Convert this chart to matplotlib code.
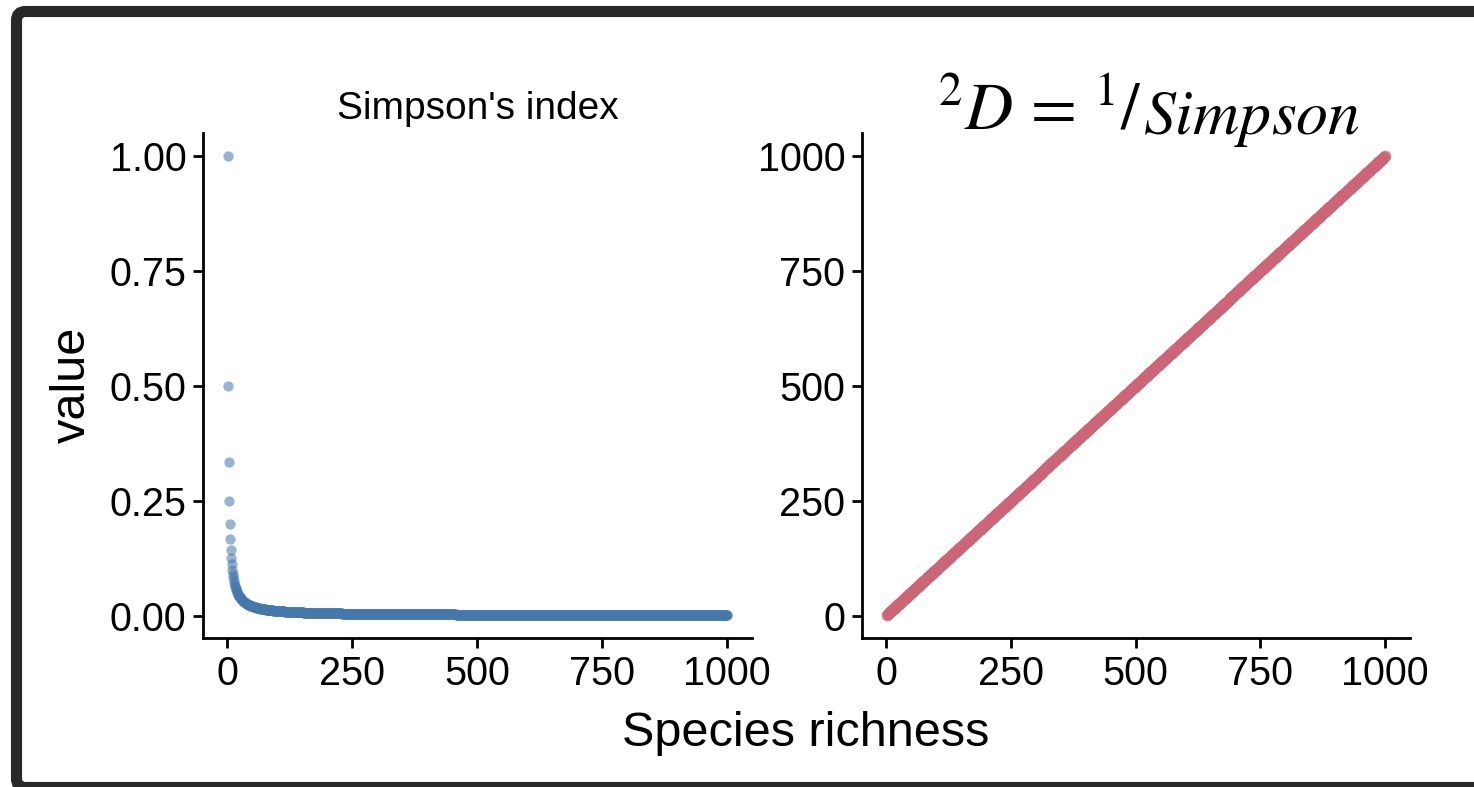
import matplotlib
matplotlib.use("Agg")
import matplotlib.pyplot as plt
import numpy as np
from matplotlib.patches import FancyBboxPatch

# --- DATA ---
# even communities with 1..1000 species
richness = np.arange(1, 1001)
abundance_share = 1.0 / richness          # each species has share p = 1/S
simpson = richness * abundance_share ** 2  # sum(p_i^2)
inv_simpson = 1.0 / simpson               # Hill number of order 2

x_ticks = [0, 250, 500, 750, 1000]
left_yticks = [0.00, 0.25, 0.50, 0.75, 1.00]
left_ylabels = ["0.00", "0.25", "0.50", "0.75", "1.00"]
right_yticks = [0, 250, 500, 750, 1000]

blue = "#4477AA"
red = "#CC6677"

plt.rcParams["font.family"] = ["Liberation Sans", "DejaVu Sans"]
plt.rcParams["mathtext.fontset"] = "stix"

W, H = 1474, 787
fig = plt.figure(figsize=(W / 100, H / 100), dpi=100)
fig.patch.set_facecolor("white")

# --- dark frame round the figure (inches, so the corner stays round) ---
frame = FancyBboxPatch((0.165, -0.005), 16.0, 7.76,
                       boxstyle="round,pad=0,rounding_size=0.09",
                       transform=fig.dpi_scale_trans, facecolor="none",
                       edgecolor="#282828", linewidth=8, zorder=10,
                       clip_on=False)
fig.patches.append(frame)


def px_axes(x0, x1, ytop, ybot):
    return fig.add_axes([x0 / W, (H - ybot) / H, (x1 - x0) / W, (ybot - ytop) / H])


def expand(lo, hi, f=0.05):
    d = (hi - lo) * f
    return lo - d, hi + d


def style(ax):
    for side in ["top", "right"]:
        ax.spines[side].set_visible(False)
    for side in ["left", "bottom"]:
        ax.spines[side].set_linewidth(2)
        ax.spines[side].set_color("black")
    ax.tick_params(width=2, length=7, labelsize=28.5, color="black",
                   labelcolor="black", pad=5)
    ax.set_xticks(x_ticks)
    ax.set_xticklabels([str(t) for t in x_ticks])


ax1 = px_axes(203, 752, 133, 638)
ax1.scatter(richness, simpson, s=55, color=blue, alpha=0.55, linewidths=0)
ax1.set_xlim(*expand(richness.min(), richness.max()))
ax1.set_ylim(*expand(simpson.min(), simpson.max()))
ax1.set_yticks(left_yticks)
ax1.set_yticklabels(left_ylabels)
style(ax1)
ax1.set_title("Simpson's index", fontsize=28, pad=10)

ax2 = px_axes(862, 1410, 133, 638)
ax2.scatter(richness, inv_simpson, s=70, color=red, alpha=0.55, linewidths=0)
ax2.set_xlim(*expand(richness.min(), richness.max()))
ax2.set_ylim(*expand(inv_simpson.min(), inv_simpson.max()))
ax2.set_yticks(right_yticks)
ax2.set_yticklabels([str(t) for t in right_yticks])
style(ax2)

fig.text(72 / W, 1 - 385 / H, "value", rotation=90, fontsize=35,
         ha="center", va="center")
fig.text(806 / W, 1 - 733 / H, "Species richness", fontsize=35,
         ha="center", va="center")

# equation above the right panel
fig.text(1142 / W, 1 - 129 / H, r"${}^{2}D\,=\,{}^{1}/$", fontsize=48,
         ha="right", va="baseline")
fig.text(1143 / W, 1 - 134 / H, r"$Simpson$", fontsize=46,
         ha="left", va="baseline")

fig.savefig("out.png", dpi=100, facecolor="white")
